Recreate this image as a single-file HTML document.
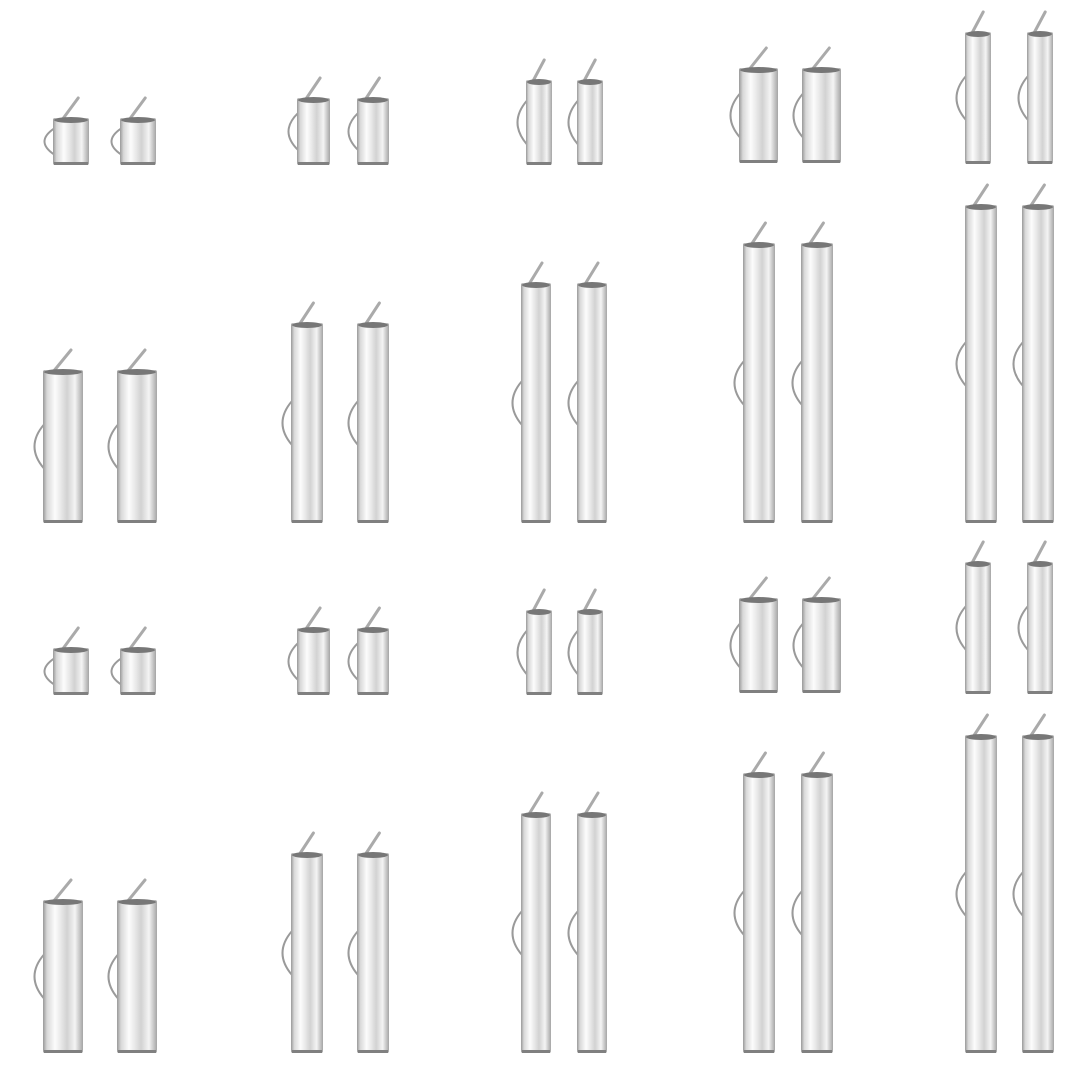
<!DOCTYPE html>
<html><head><meta charset="utf-8"><style>
html,body{margin:0;padding:0;background:#fff;width:1080px;height:1080px;overflow:hidden}
</style></head><body>
<svg id="s" width="1080" height="1080" viewBox="0 0 1080 1080" xmlns="http://www.w3.org/2000/svg">
<defs>
<linearGradient id="g" x1="0" x2="1" y1="0" y2="0">
<stop offset="0" stop-color="#999"/>
<stop offset="0.1" stop-color="#d8d8d8"/>
<stop offset="0.3" stop-color="#fcfcfc"/>
<stop offset="0.45" stop-color="#e8e8e8"/>
<stop offset="0.6" stop-color="#d2d2d2"/>
<stop offset="0.8" stop-color="#f4f4f4"/>
<stop offset="1" stop-color="#a5a5a5"/>
</linearGradient>
</defs>
</svg>
<script>
var S=document.getElementById('s'),ns='http://www.w3.org/2000/svg';
function el(t,a){var e=document.createElementNS(ns,t);for(var k in a)e.setAttribute(k,a[k]);S.appendChild(e);}
var cols=[
 [[53,89,120,156,118,165],[43,83,117,157,370,523]],
 [[297,330,357,389,98,165],[291,323,357,389,323,523]],
 [[526,552,577,603,80,165],[521,551,577,607,283,523]],
 [[739,778,802,841,68,163],[743,775,801,833,243,523]],
 [[965,991,1027,1053,32,164],[965,997,1022,1054,205,523]]
];
function tube(x1,x2,t,b){
 var w=x2-x1,h=b-t,cy=t+h*0.5,lh=Math.min(h*0.55,44);
 el('path',{d:'M'+(x1+1)+' '+(cy-lh/2)+' Q'+(x1-18)+' '+cy+' '+(x1+1)+' '+(cy+lh/2),fill:'none',stroke:'#9a9a9a','stroke-width':2});
 el('path',{d:'M'+(x1+w*0.25)+' '+(t+2)+' L'+(x1+w*0.7)+' '+(t-20),fill:'none',stroke:'#aaa','stroke-width':3,'stroke-linecap':'round'});
 el('rect',{x:x1,y:t,width:w,height:h,fill:'url(#g)',rx:2});
 el('ellipse',{cx:x1+w/2,cy:t+2,rx:w/2-1,ry:3,fill:'#777'});
 el('rect',{x:x1+1,y:b-3,width:w-2,height:3,fill:'#808080'});
}
[0,530].forEach(function(off){
 cols.forEach(function(c){c.forEach(function(r){
  tube(r[0],r[1],r[4]+off,r[5]+off);tube(r[2],r[3],r[4]+off,r[5]+off);
 });});
});
</script>
</body></html>
